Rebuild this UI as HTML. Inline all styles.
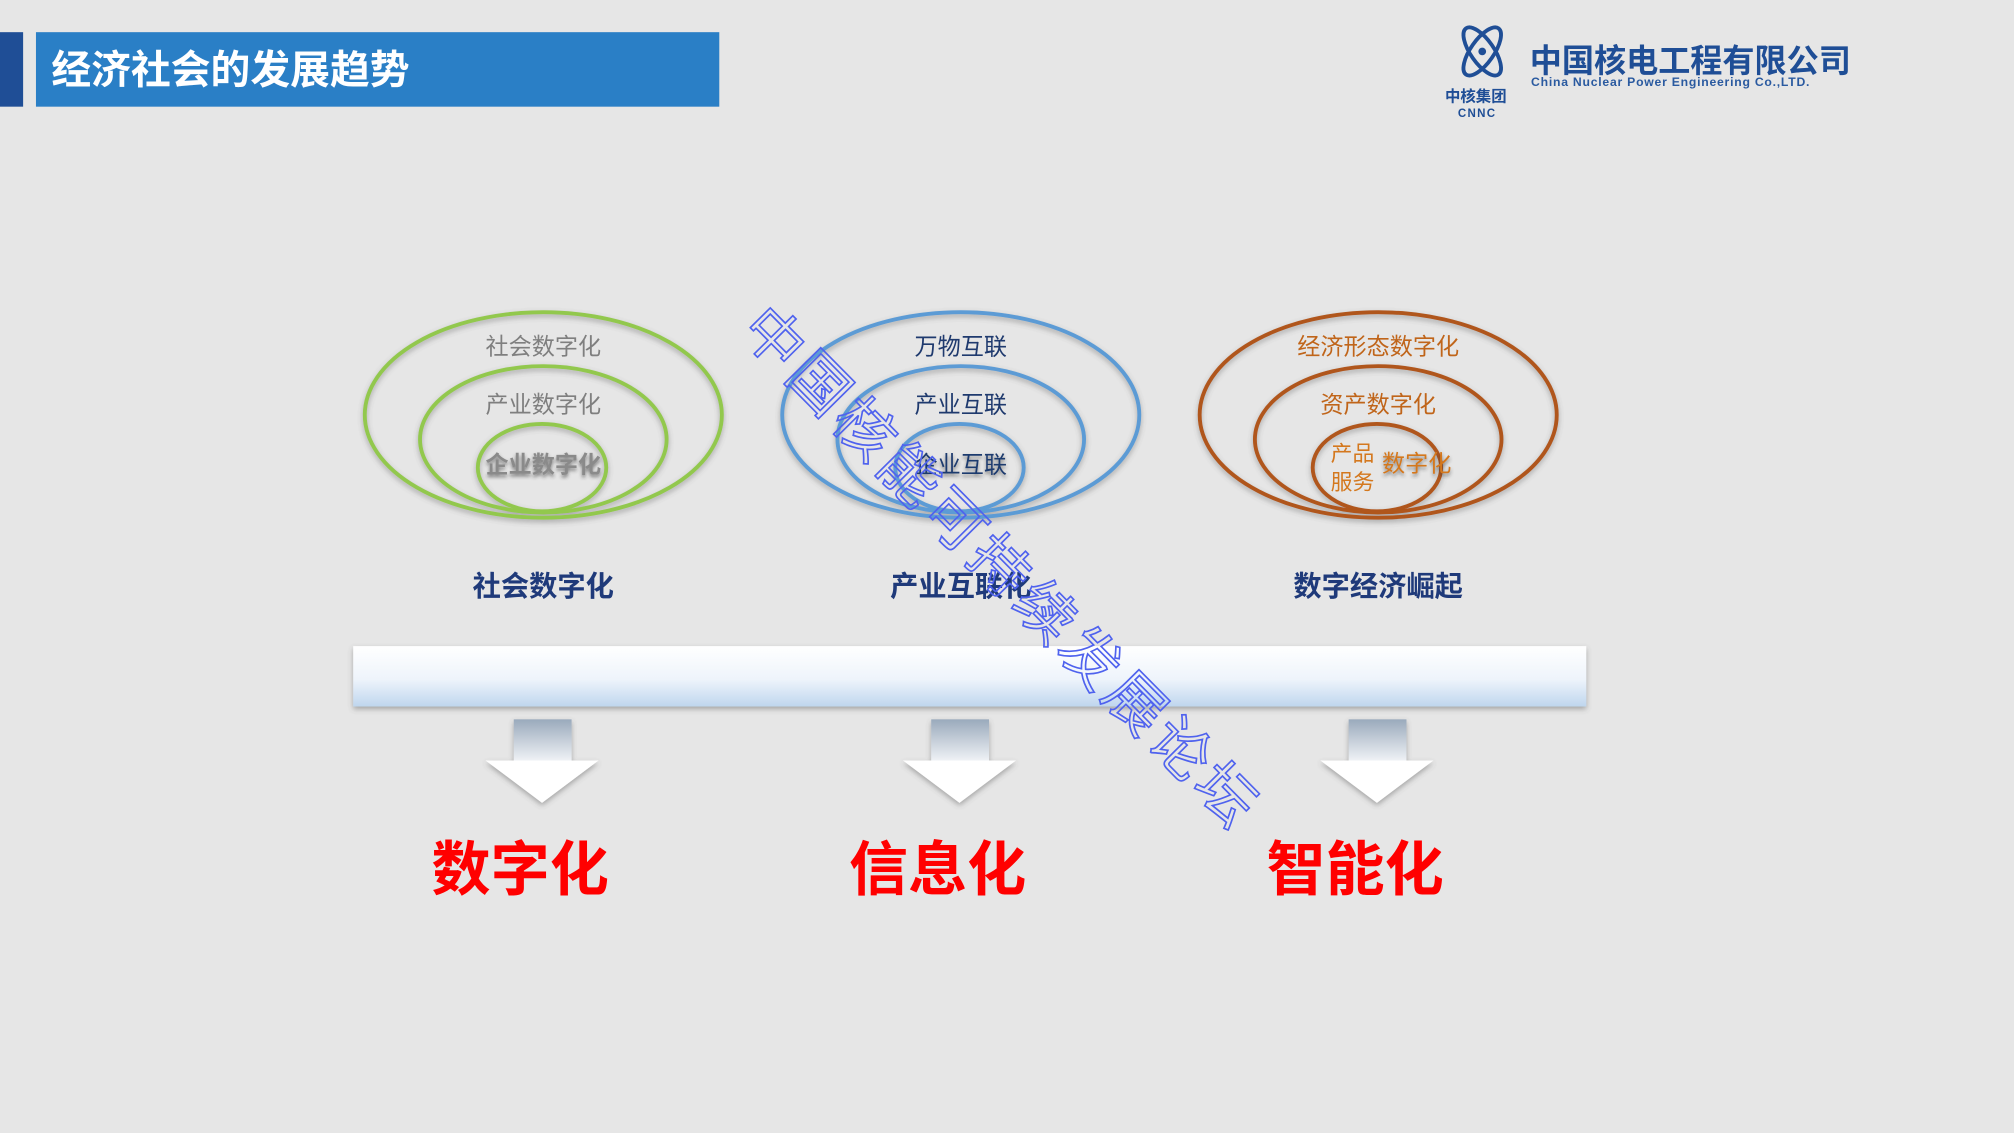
<!DOCTYPE html>
<html><head><meta charset="utf-8"><style>
html,body{margin:0;padding:0;background:#e6e6e6;}
svg{display:block;font-family:"Liberation Sans","Noto Sans CJK SC",sans-serif;}
</style></head><body>
<svg width="2014" height="1133" viewBox="0 0 1568 882" xmlns="http://www.w3.org/2000/svg">
<defs>
<linearGradient id="bar" x1="0" y1="0" x2="0" y2="1">
<stop offset="0" stop-color="#ffffff"/><stop offset="0.55" stop-color="#eef4fb"/><stop offset="1" stop-color="#bfd6ee"/></linearGradient>
<linearGradient id="stem" x1="0" y1="0" x2="0" y2="1">
<stop offset="0" stop-color="#9aaabc"/><stop offset="1" stop-color="#f4f6f9"/></linearGradient>
<filter id="sh" x="-10%" y="-10%" width="120%" height="130%"><feDropShadow dx="0" dy="2" stdDeviation="2" flood-color="#555" flood-opacity="0.45"/></filter>
<filter id="ts"><feDropShadow dx="0" dy="2" stdDeviation="1.5" flood-color="#333" flood-opacity="0.6"/></filter>
</defs>
<rect width="1568" height="882" fill="#e6e6e6"/>
<rect x="0" y="25" width="18" height="58" fill="#1f4e96"/>
<rect x="28" y="25" width="532" height="58" fill="#2a7fc6"/>
<text x="40" y="65" font-size="31" font-weight="bold" fill="#fff">经济社会的发展趋势</text>
<g fill="none" stroke="#1f4e96" stroke-width="3">
<ellipse cx="1154" cy="40" rx="9" ry="22" transform="rotate(35 1154 40)"/>
<ellipse cx="1154" cy="40" rx="9" ry="22" transform="rotate(-35 1154 40)"/>
</g>
<circle cx="1154" cy="40" r="3" fill="#1f4e96"/>
<text x="1125" y="79" font-size="12" font-weight="bold" fill="#1f4e96">中核集团</text>
<text x="1135" y="91" font-size="9" font-weight="bold" fill="#1f4e96" letter-spacing="1">CNNC</text>
<text x="1191" y="56" font-size="25" font-weight="bold" fill="#1f4e96">中国核电工程有限公司</text>
<text x="1192" y="67" font-size="9.5" font-weight="bold" fill="#2a5aa0" letter-spacing="0.6">China Nuclear Power Engineering Co.,LTD.</text>
<g fill="none" stroke-width="3" filter="url(#sh)">
<g stroke="#92c84e"><ellipse cx="423" cy="323" rx="139" ry="80"/><ellipse cx="423" cy="342" rx="96" ry="57"/><ellipse cx="422" cy="364" rx="50" ry="34"/></g>
<g stroke="#5b9bd5"><ellipse cx="748" cy="323" rx="139" ry="80"/><ellipse cx="748" cy="342" rx="96" ry="57"/><ellipse cx="747" cy="364" rx="50" ry="34"/></g>
<g stroke="#b0561a"><ellipse cx="1073" cy="323" rx="139" ry="80"/><ellipse cx="1073" cy="342" rx="96" ry="57"/><ellipse cx="1072" cy="364" rx="50" ry="34"/></g>
</g>
<g font-size="18" text-anchor="middle">
<text x="423" y="276" fill="#7f7f7f">社会数字化</text>
<text x="423" y="321" fill="#7f7f7f">产业数字化</text>
<text x="423" y="368" fill="#8a8a8a" font-weight="bold" filter="url(#ts)">企业数字化</text>
<text x="748" y="276" fill="#1f3a6e">万物互联</text>
<text x="748" y="321" fill="#1f3a6e">产业互联</text>
<text x="748" y="368" fill="#1f3a6e" filter="url(#ts)">企业互联</text>
<text x="1073" y="276" fill="#c0651a">经济形态数字化</text>
<text x="1073" y="321" fill="#c0651a">资产数字化</text>
<text x="1103" y="367" fill="#d4781e" filter="url(#ts)">数字化</text>
</g>
<g font-size="17" fill="#d4781e"><text x="1036" y="359">产品</text><text x="1036" y="381">服务</text></g>
<g font-size="22" font-weight="bold" fill="#1f3a7a" text-anchor="middle">
<text x="423" y="464">社会数字化</text><text x="748" y="464">产业互联化</text><text x="1073" y="464">数字经济崛起</text>
</g>
<rect x="275" y="503" width="960" height="47" fill="url(#bar)" filter="url(#sh)"/>
<g filter="url(#sh)">
<g><rect x="400" y="560" width="45" height="34" fill="url(#stem)"/><polygon points="378,592 466,592 422,625" fill="#fff"/></g>
<g transform="translate(325,0)"><rect x="400" y="560" width="45" height="34" fill="url(#stem)"/><polygon points="378,592 466,592 422,625" fill="#fff"/></g>
<g transform="translate(650,0)"><rect x="400" y="560" width="45" height="34" fill="url(#stem)"/><polygon points="378,592 466,592 422,625" fill="#fff"/></g>
</g>
<g font-size="46" font-weight="bold" fill="#ff0000" text-anchor="middle">
<text x="405" y="693">数字化</text><text x="730" y="693">信息化</text><text x="1055" y="693">智能化</text>
</g>
<text x="575" y="258" font-size="46" fill="none" stroke="#4f62ee" stroke-width="1.3" letter-spacing="4" transform="rotate(45.3 575 258)">中国核能可持续发展论坛</text>
</svg>
</body></html>
